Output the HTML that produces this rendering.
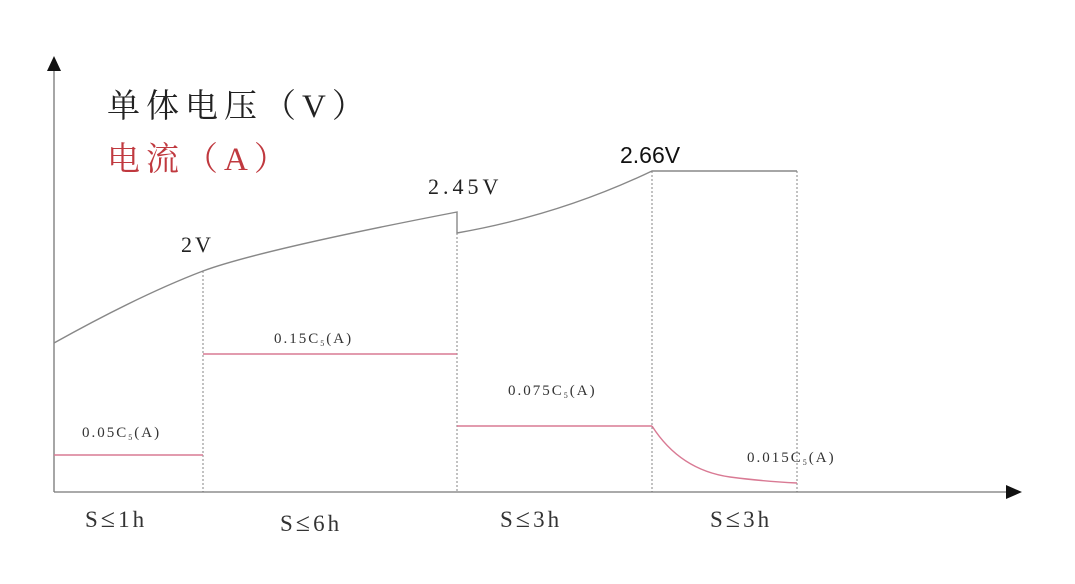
<!DOCTYPE html>
<html><head><meta charset="utf-8"><style>
html,body{margin:0;padding:0;background:#fff;}
svg{display:block;}
.s{font-family:"Liberation Serif","Noto Serif CJK SC",serif;}
</style></head><body>
<svg width="1075" height="584" viewBox="0 0 1075 584" xmlns="http://www.w3.org/2000/svg">
<rect width="1075" height="584" fill="#fff"/>
<line x1="54" y1="68" x2="54" y2="492" stroke="#777" stroke-width="1.3"/>
<polygon points="54,56 47,71 61,71" fill="#111"/>
<line x1="54" y1="492" x2="1008" y2="492" stroke="#777" stroke-width="1.3"/>
<polygon points="1022,492 1006,485 1006,499" fill="#111"/>
<g stroke="#666" stroke-width="0.8" stroke-dasharray="2,2">
<line x1="203" y1="271" x2="203" y2="492"/>
<line x1="457" y1="233" x2="457" y2="492"/>
<line x1="652" y1="171" x2="652" y2="492"/>
<line x1="797" y1="171" x2="797" y2="492"/>
</g>
<path d="M54,343 Q140,295 203,271 Q260,250 457,212 L457,233 Q560,215 652,171 L797,171" fill="none" stroke="#888" stroke-width="1.4"/>
<g stroke="#d97a94" stroke-width="1.4" fill="none">
<line x1="54" y1="455" x2="203" y2="455"/>
<line x1="203" y1="354" x2="457" y2="354"/>
<line x1="457" y1="426" x2="652" y2="426"/>
<path d="M652,426 Q680,470 730,477 Q760,481 797,483"/>
</g>
<text x="107" y="117" class="s" font-size="33" fill="#222" letter-spacing="6">单体电压（V）</text>
<text x="107" y="170" class="s" font-size="33" fill="#c0393f" letter-spacing="6">电流（A）</text>
<text x="181" y="252" class="s" font-size="22" fill="#222" letter-spacing="3">2V</text>
<text x="428" y="194" class="s" font-size="22" fill="#222" letter-spacing="4">2.45V</text>
<text x="620" y="163" font-family="Liberation Sans,sans-serif" font-size="23" fill="#111">2.66V</text>
<g class="s" font-size="15" fill="#333" letter-spacing="2">
<text x="82" y="437">0.05C<tspan font-size="8" dy="3">5</tspan><tspan dy="-3">(A)</tspan></text>
<text x="274" y="343">0.15C<tspan font-size="8" dy="3">5</tspan><tspan dy="-3">(A)</tspan></text>
<text x="508" y="395">0.075C<tspan font-size="8" dy="3">5</tspan><tspan dy="-3">(A)</tspan></text>
<text x="747" y="462">0.015C<tspan font-size="8" dy="3">5</tspan><tspan dy="-3">(A)</tspan></text>
</g>
<g class="s" font-size="23" fill="#333" letter-spacing="3">
<text x="85" y="527">S<tspan font-size="26">≤</tspan>1h</text>
<text x="280" y="531">S<tspan font-size="26">≤</tspan>6h</text>
<text x="500" y="527">S<tspan font-size="26">≤</tspan>3h</text>
<text x="710" y="527">S<tspan font-size="26">≤</tspan>3h</text>
</g>
</svg>
</body></html>
